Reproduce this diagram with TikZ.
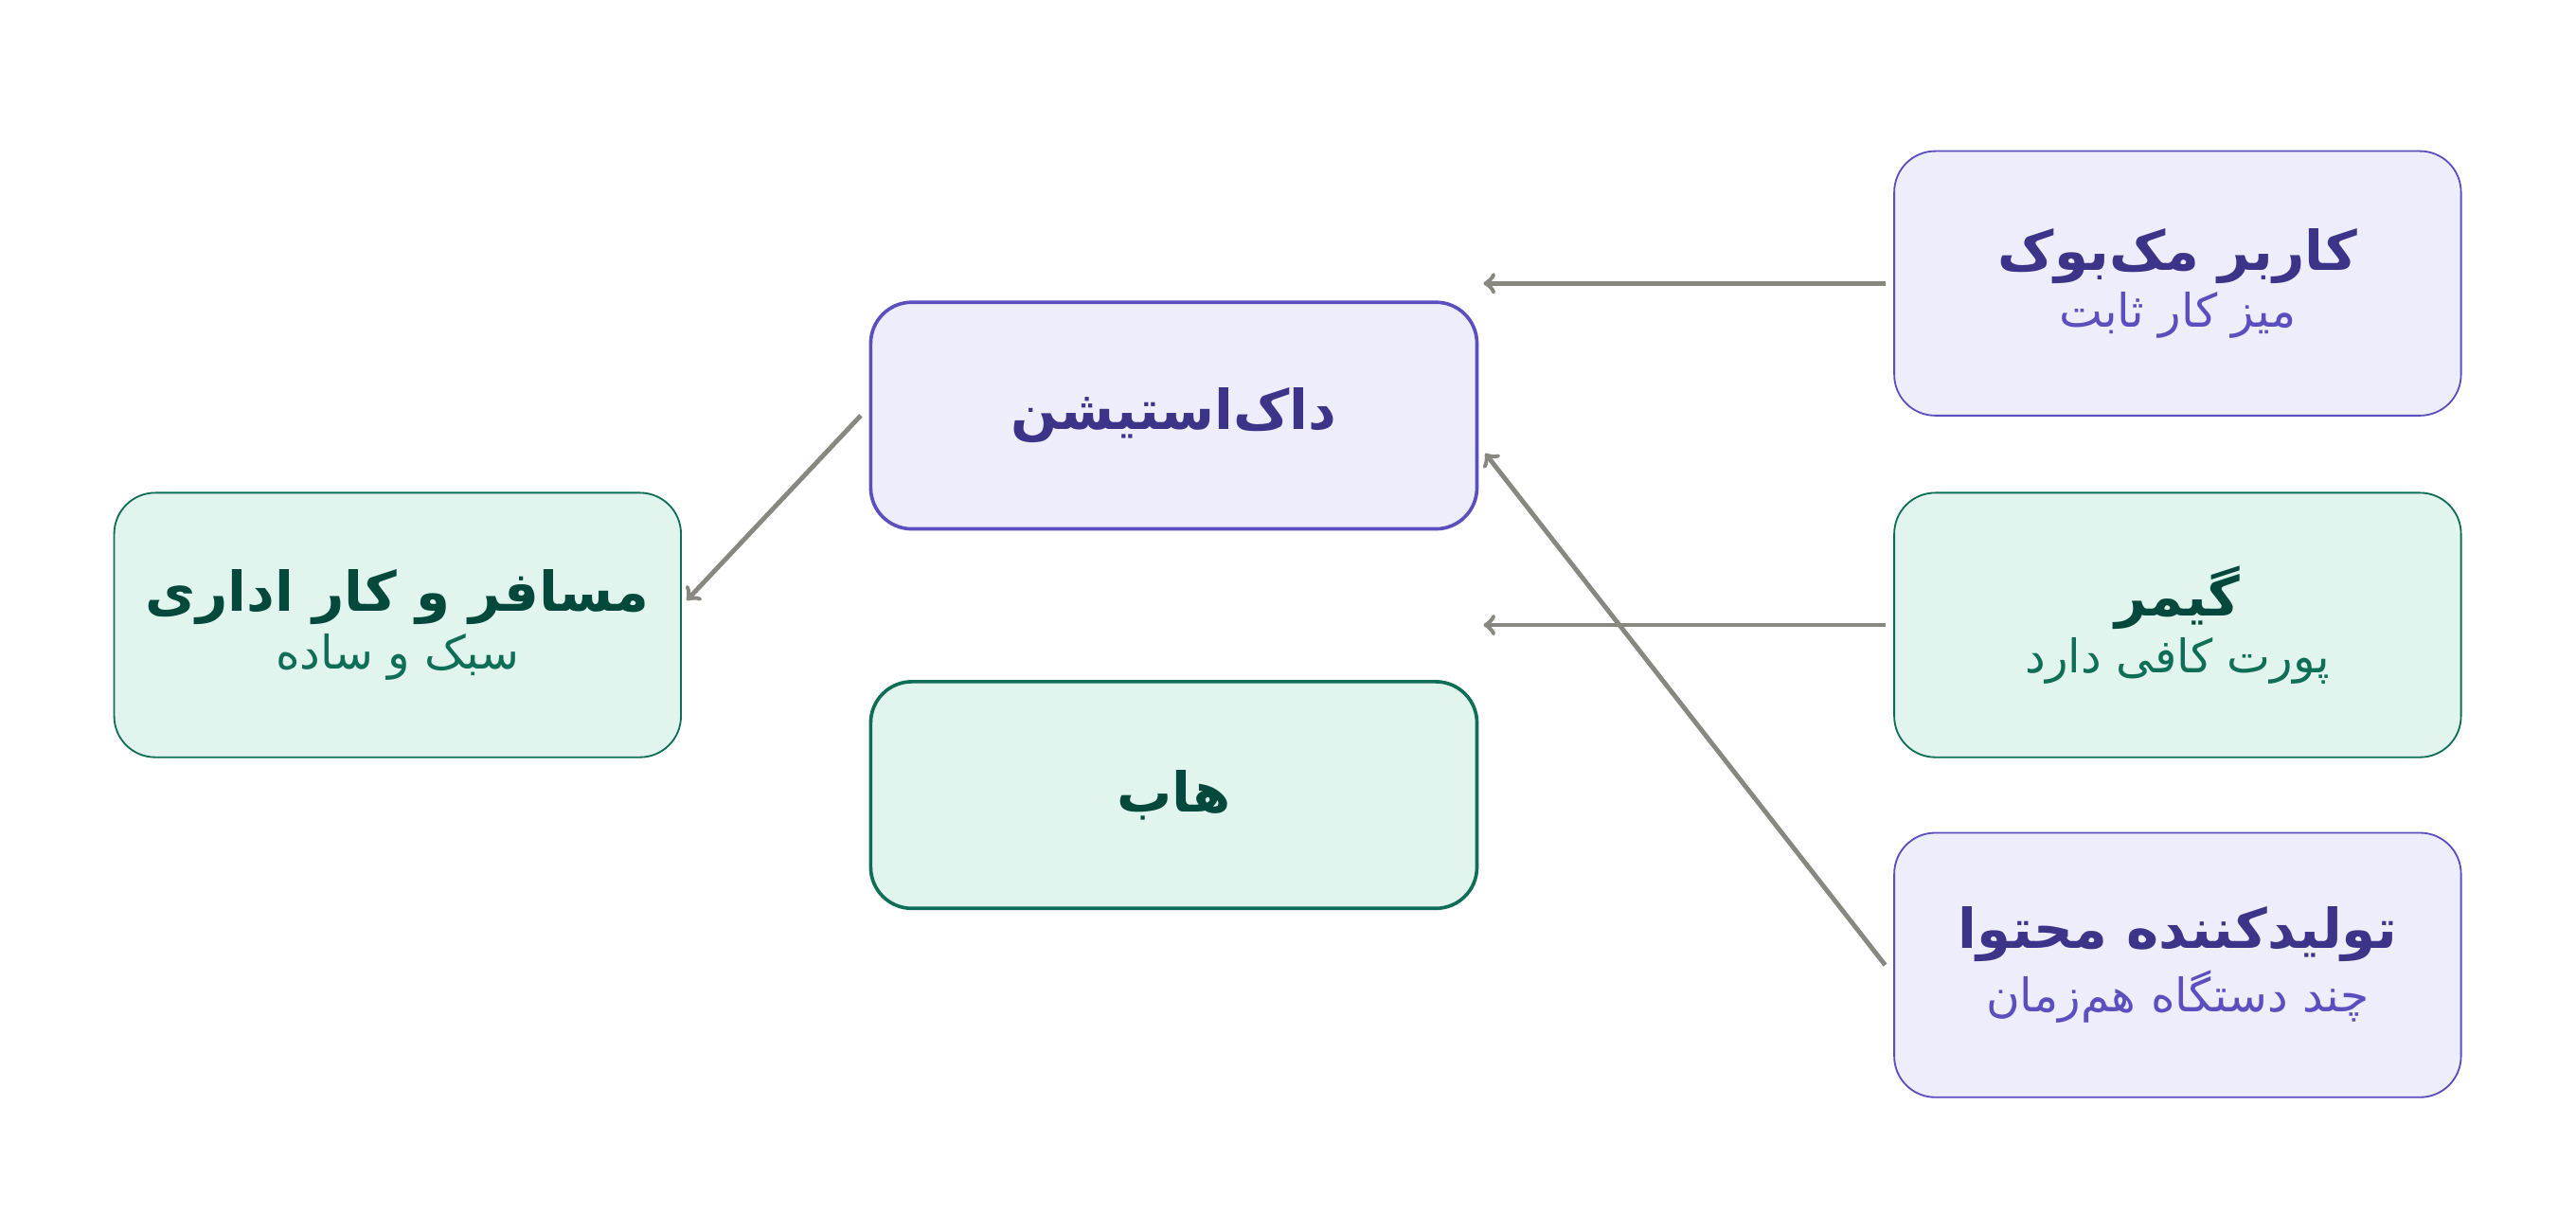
\documentclass[tikz,border=0pt]{standalone}
\usepackage{fontspec}
\usepackage{tikz}
\usetikzlibrary{arrows}
\usetikzlibrary{positioning}
\newfontfamily\farsi[Script=Arabic]{DejaVu Sans}
\TeXXeTstate=1
\newcommand{\fa}[1]{{\farsi\beginR #1\endR}}
\definecolor{purpfill}{HTML}{EEEDFC}
\definecolor{purpline}{HTML}{5B4FC0}
\definecolor{purptext}{HTML}{3C3489}
\definecolor{greenfill}{HTML}{E1F5EE}
\definecolor{greenline}{HTML}{0F6E56}
\definecolor{greentext}{HTML}{04493B}
\definecolor{arrowgray}{HTML}{888780}
\tikzset{
	box/.style={rounded corners=0.5cm, minimum width=6.9cm, minimum height=3.22cm, align=center, line width=0.6pt},
	purplebox/.style={box, fill=purpfill, draw=purpline},
	greenbox/.style={box, fill=greenfill, draw=greenline},
	midbox/.style={rounded corners=0.5cm, minimum width=7.38cm, minimum height=2.76cm, line width=1.2pt},
	link/.style={draw=arrowgray, line width=1.6pt, -{>[scale=1.1]}, shorten >=0pt}
}
\begin{document}
\begin{tikzpicture}
	\useasboundingbox (0,0) rectangle (31.36,-14.76);
	% right column
	\node[purplebox] (macbook) at (26.51,-3.45) {\fontsize{19}{26}\selectfont\color{purptext}\fa{\bfseries کاربر مک‌بوک}\\[2pt]
		\fontsize{16}{22}\selectfont\color{purpline}\fa{میز کار ثابت}};
	\node[greenbox] (gamer) at (26.51,-7.61) {\fontsize{19}{26}\selectfont\color{greentext}\fa{\bfseries گیمر}\\[2pt]
		\fontsize{16}{22}\selectfont\color{greenline}\fa{پورت کافی دارد}};
	\node[purplebox] (creator) at (26.51,-11.75) {\fontsize{19}{26}\selectfont\color{purptext}\fa{\bfseries تولیدکننده محتوا}\\[2pt]
		\fontsize{16}{22}\selectfont\color{purpline}\fa{چند دستگاه هم‌زمان}};
	% middle column
	\node[midbox, fill=purpfill, draw=purpline] (dock) at (14.29,-5.06) {\fontsize{19}{26}\selectfont\color{purptext}\fa{\bfseries داک‌استیشن}};
	\node[midbox, fill=greenfill, draw=greenline] (hub) at (14.29,-9.68) {\fontsize{19}{26}\selectfont\color{greentext}\fa{\bfseries هاب}};
	% left column
	\node[greenbox] (travel) at (4.84,-7.61) {\fontsize{19}{26}\selectfont\color{greentext}\fa{\bfseries مسافر و کار اداری}\\[2pt]
		\fontsize{16}{22}\selectfont\color{greenline}\fa{سبک و ساده}};
	% arrows
	\coordinate (macbookend) at (18.06,-3.45);
	\coordinate (gamerend) at (18.06,-7.61);
	\draw[link] (macbook.west) ++(-0.1,0) -- (macbookend);
	\draw[link] (gamer.west) ++(-0.1,0) -- (gamerend);
	\draw[link] ([xshift=-0.1cm]creator.west) -- ([xshift=0.08cm,yshift=-0.46cm]dock.east);
	\draw[link] ([xshift=-0.1cm]dock.west) -- ([xshift=0.06cm,yshift=0.3cm]travel.east);
\end{tikzpicture}
\end{document}
